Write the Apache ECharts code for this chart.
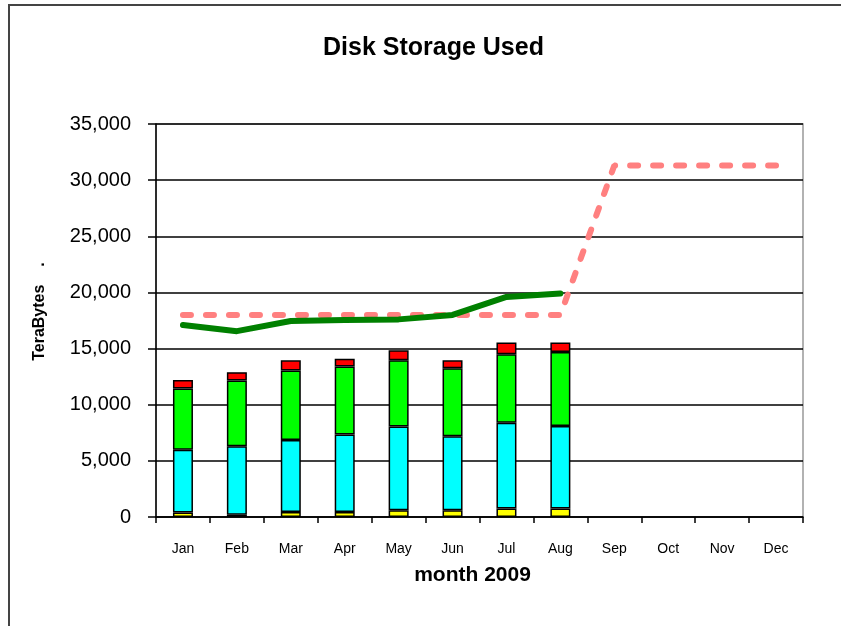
<!DOCTYPE html>
<html>
<head>
<meta charset="utf-8">
<title>Disk Storage Used</title>
<script src="https://cdn.jsdelivr.net/npm/echarts@6/dist/echarts.min.js"></script>
<style>
  html, body { margin: 0; padding: 0; background: #fff; }
  #chart { width: 841px; height: 626px; }
</style>
</head>
<body>
<div id="chart"></div>
<script>
// months on the x axis
const months = ['Jan', 'Feb', 'Mar', 'Apr', 'May', 'Jun', 'Jul', 'Aug', 'Sep', 'Oct', 'Nov', 'Dec'];

// stacked bar parts (TB), Jan..Aug
const yellowPart = [400, 200, 450, 450, 600, 600, 750, 750];
const cyanPart   = [5600, 6100, 6400, 6900, 7450, 6600, 7650, 7350];
const greenPart  = [5450, 5850, 6200, 6050, 5900, 6050, 6100, 6600];
const redPart    = [750, 750, 900, 700, 900, 700, 1050, 850];

// lines
const greenLine = [17100, 16550, 17450, 17550, 17600, 18000, 19600, 19900];
const pinkLine  = [18000, 18000, 18000, 18000, 18000, 18000, 18000, 18000, 31300, 31300, 31300, 31300];

const yTicks = { min: 0, max: 35000, interval: 5000 };

const font = 'Liberation Sans, Arial, sans-serif';
const narrow = 'Liberation Sans Narrow, Arial Narrow, Liberation Sans, Arial, sans-serif';

const chart = echarts.init(document.getElementById('chart'));

function barSeries(name, data, color) {
    return {
        name: name,
        type: 'bar',
        stack: 'used',
        data: data,
        barWidth: 20,
        itemStyle: { color: color, borderColor: '#000', borderWidth: 1.5 },
        animation: false
    };
}

chart.setOption({
    backgroundColor: '#fff',
    animation: false,
    title: {
        text: 'Disk Storage Used',
        left: 318,
        top: 31,
        textStyle: { fontFamily: font, fontSize: 25, fontWeight: 'bold', color: '#000' }
    },
    graphic: [{
        type: 'rect',
        shape: { x: 9, y: 5, width: 900, height: 700 },
        style: { fill: 'none', stroke: '#444', lineWidth: 2 },
        silent: true
    }],
    grid: {
        left: 156, right: 38, top: 124, bottom: 109,
        show: true, borderColor: '#999', borderWidth: 1.5
    },
    xAxis: {
        type: 'category',
        data: months,
        boundaryGap: true,
        name: 'month 2009',
        nameLocation: 'middle',
        nameGap: 48,
        nameTextStyle: {
            fontFamily: font, fontSize: 21, fontWeight: 'bold', color: '#000',
            padding: [0, 14, 0, 0]
        },
        axisLine: { lineStyle: { color: '#000', width: 1.5 } },
        axisTick: { show: true, length: 6, lineStyle: { color: '#000', width: 1.5 } },
        axisLabel: { fontFamily: narrow, fontSize: 14, color: '#000', margin: 25, interval: 0 }
    },
    yAxis: {
        type: 'value',
        min: yTicks.min,
        max: yTicks.max,
        interval: yTicks.interval,
        name: '    TeraBytes    .',
        nameLocation: 'middle',
        nameGap: 108,
        nameTextStyle: { fontFamily: font, fontSize: 16, fontWeight: 'bold', color: '#000' },
        axisLine: { show: true, lineStyle: { color: '#000', width: 1.5 } },
        axisTick: { show: true, length: 8, lineStyle: { color: '#000', width: 1.5 } },
        axisLabel: {
            fontFamily: font, fontSize: 20, color: '#000', margin: 25,
            formatter: v => v.toLocaleString('en-US')
        },
        splitLine: { show: true, lineStyle: { color: '#000', width: 1.5 } }
    },
    series: [
        barSeries('yellow', yellowPart, '#ffff00'),
        barSeries('cyan', cyanPart, '#00ffff'),
        barSeries('green', greenPart, '#00ff00'),
        barSeries('red', redPart, '#ff0000'),
        {
            name: 'used', type: 'line', data: greenLine,
            symbol: 'none', z: 5,
            lineStyle: { color: '#008000', width: 6, cap: 'round', join: 'round' }
        },
        {
            name: 'capacity', type: 'line', data: pinkLine,
            symbol: 'none', z: 4,
            lineStyle: { color: '#ff8080', width: 6, type: [8, 15], cap: 'round' }
        }
    ]
});
</script>
</body>
</html>
